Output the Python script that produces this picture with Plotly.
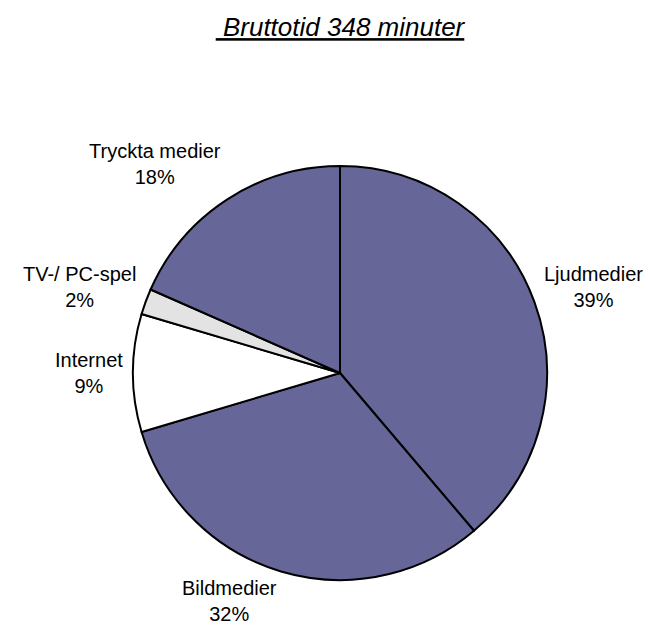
import math
import plotly.graph_objects as go

labels = ["Ljudmedier", "Bildmedier", "Internet", "TV-/ PC-spel", "Tryckta medier"]
minutes = [135, 110, 32, 7, 64]
colors = ["#666699", "#666699", "#FFFFFF", "#E3E3E3", "#666699"]
title_text = "Bruttotid 348 minuter"

W, H = 648, 629
cx, cy, r = 340, 373, 207
LABEL_R = 215        # horizontal anchor radius
LABEL_RY_UP = 250    # vertical centre radius, upper half
LABEL_RY_DOWN = 238  # vertical centre radius, lower half
FONT = "Liberation Sans, Arial"

fig = go.Figure(go.Pie(
    labels=labels,
    values=minutes,
    sort=False,
    direction="clockwise",
    rotation=0,
    marker=dict(colors=colors, line=dict(color="black", width=2)),
    textinfo="none",
    domain=dict(x=[(cx - r) / W, (cx + r) / W], y=[1 - (cy + r) / H, 1 - (cy - r) / H]),
    showlegend=False,
    hoverinfo="label+percent",
))

total = sum(minutes)
annotations = []
cum = 0
for lab, v in zip(labels, minutes):
    mid = (cum + v / 2) / total * 2 * math.pi
    cum += v
    s, c = math.sin(mid), math.cos(mid)
    px = cx + LABEL_R * s
    py = cy - (LABEL_RY_UP if c >= 0 else LABEL_RY_DOWN) * c
    xa = "left" if s > 0.1 else ("right" if s < -0.1 else "center")
    pct = round(v / total * 100)
    annotations.append(dict(
        x=px / W, y=1 - py / H, xref="paper", yref="paper",
        text=f"{lab}<br>{pct}%", showarrow=False, xanchor=xa, yanchor="middle",
        align="center", font=dict(family=FONT, size=20, color="black"),
    ))

fig.update_layout(
    width=W, height=H,
    margin=dict(l=0, r=0, t=0, b=0),
    paper_bgcolor="white",
    plot_bgcolor="white",
    annotations=annotations,
    title=dict(text=f"<i><u> {title_text}</u></i>", x=340 / W, xanchor="center",
               y=1 - 27 / H, yanchor="middle",
               font=dict(family=FONT, size=26, color="black")),
)

fig.write_html("out.html", config={"displayModeBar": False},
               post_script="document.body.style.margin='0';document.body.style.overflow='hidden';")
